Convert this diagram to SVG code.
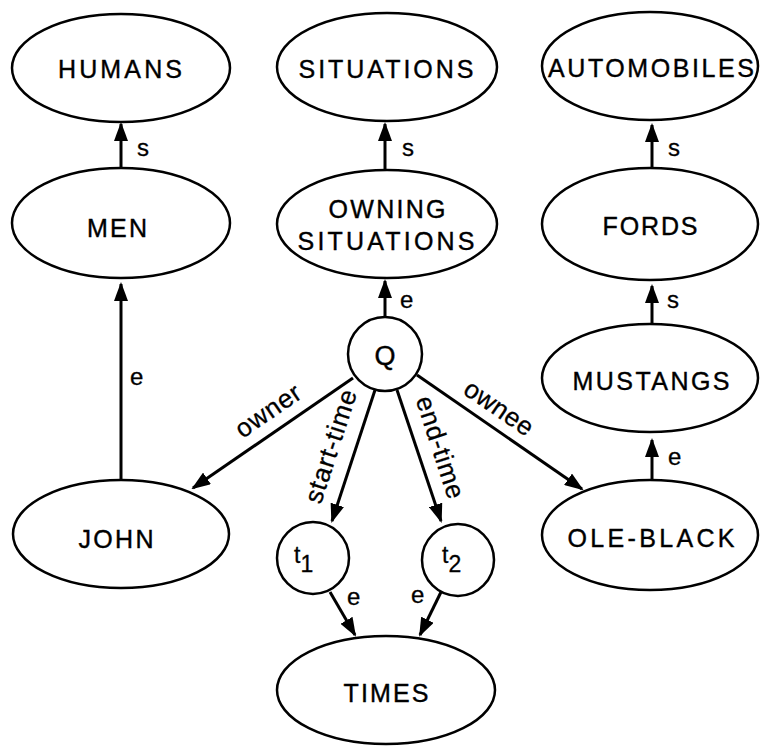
<svg xmlns="http://www.w3.org/2000/svg" width="760" height="746" viewBox="0 0 760 746">
<style>
.n{fill:#fff;stroke:#000;stroke-width:2.5}
.t{font-family:"Liberation Sans",Arial,sans-serif;font-size:25px;fill:#000;stroke:#000;stroke-width:0.4;text-anchor:middle}
.l{font-family:"Liberation Sans",Arial,sans-serif;font-size:24px;fill:#000;stroke:#000;stroke-width:0.3}
.r{font-size:26px;text-anchor:middle}
.c line{stroke:#000;stroke-width:3;marker-end:url(#ah)}
</style>
<defs>
<marker id="ah" markerUnits="userSpaceOnUse" markerWidth="19" markerHeight="14" refX="17" refY="7" orient="auto">
<path d="M0,0 L19,7 L0,14 z" fill="#000"/>
</marker>
</defs>
<rect width="760" height="746" fill="#fff"/>
<g class="c" id="connectors">
<line x1="121" y1="170" x2="121" y2="124"/>
<line x1="385" y1="170" x2="385" y2="124"/>
<line x1="652" y1="168" x2="652" y2="125"/>
<line x1="121" y1="480" x2="121" y2="284"/>
<line x1="385" y1="318" x2="385" y2="281"/>
<line x1="652" y1="325" x2="652" y2="286"/>
<line x1="652" y1="480" x2="652" y2="440"/>
<line x1="353" y1="378" x2="193" y2="488"/>
<line x1="375" y1="390" x2="332" y2="521"/>
<line x1="397" y1="390" x2="441" y2="521"/>
<line x1="417" y1="375" x2="582" y2="489"/>
<line x1="330" y1="592" x2="355" y2="635"/>
<line x1="442" y1="590" x2="420" y2="635"/>
<text class="l" x="137" y="156">s</text>
<text class="l" x="402" y="156">s</text>
<text class="l" x="668" y="156">s</text>
<text class="l" x="130" y="385">e</text>
<text class="l" x="400" y="308">e</text>
<text class="l" x="667" y="308">s</text>
<text class="l" x="668" y="465">e</text>
<text class="l" x="347" y="605">e</text>
<text class="l" x="411" y="603">e</text>
<text class="l r" transform="translate(273,418) rotate(-34.5)" textLength="74" lengthAdjust="spacing">owner</text>
<text class="l r" transform="translate(339,449) rotate(-72)" textLength="118" lengthAdjust="spacing">start-time</text>
<text class="l r" transform="translate(432,450) rotate(72)" textLength="106" lengthAdjust="spacing">end-time</text>
<text class="l r" transform="translate(494,415) rotate(34.5)" textLength="78" lengthAdjust="spacing">ownee</text>
</g>
<g id="humans"><ellipse class="n" cx="121" cy="68" rx="109" ry="54"/><text class="t" x="120" y="78" textLength="124" lengthAdjust="spacing">HUMANS</text></g>
<g id="situations"><ellipse class="n" cx="387" cy="67" rx="110" ry="54"/><text class="t" x="386" y="78" textLength="175" lengthAdjust="spacing">SITUATIONS</text></g>
<g id="automobiles"><ellipse class="n" cx="650" cy="66" rx="108" ry="54"/><text class="t" x="651" y="77" textLength="206" lengthAdjust="spacing">AUTOMOBILES</text></g>
<g id="men"><ellipse class="n" cx="121" cy="223" rx="109" ry="55"/><text class="t" x="117" y="237" textLength="60" lengthAdjust="spacing">MEN</text></g>
<g id="owning-situations"><ellipse class="n" cx="387" cy="224" rx="110" ry="54"/><text class="t" x="387" y="218" textLength="117" lengthAdjust="spacing">OWNING</text><text class="t" x="386" y="250" textLength="177" lengthAdjust="spacing">SITUATIONS</text></g>
<g id="fords"><ellipse class="n" cx="650" cy="224" rx="108" ry="56"/><text class="t" x="650" y="235" textLength="95" lengthAdjust="spacing">FORDS</text></g>
<g id="mustangs"><ellipse class="n" cx="650" cy="378" rx="108" ry="54"/><text class="t" x="651" y="390" textLength="157" lengthAdjust="spacing">MUSTANGS</text></g>
<g id="q"><circle class="n" cx="385" cy="354" r="37"/><text class="t" x="385" y="365" style="font-size:27px">Q</text></g>
<g id="john"><ellipse class="n" cx="121" cy="534" rx="108" ry="54"/><text class="t" x="116" y="548" textLength="75" lengthAdjust="spacing">JOHN</text></g>
<g id="ole-black"><ellipse class="n" cx="650" cy="535" rx="108" ry="55"/><text class="t" x="651" y="547" textLength="167" lengthAdjust="spacing">OLE-BLACK</text></g>
<g id="t1"><circle class="n" cx="313" cy="558" r="36"/><text class="l" x="294" y="563" style="font-size:23px">t<tspan dy="9">1</tspan></text></g>
<g id="t2"><circle class="n" cx="458" cy="560" r="36"/><text class="l" x="442" y="563" style="font-size:23px">t<tspan dy="9">2</tspan></text></g>
<g id="times"><ellipse class="n" cx="386" cy="690" rx="109" ry="54"/><text class="t" x="386" y="702" textLength="85" lengthAdjust="spacing">TIMES</text></g>
</svg>
